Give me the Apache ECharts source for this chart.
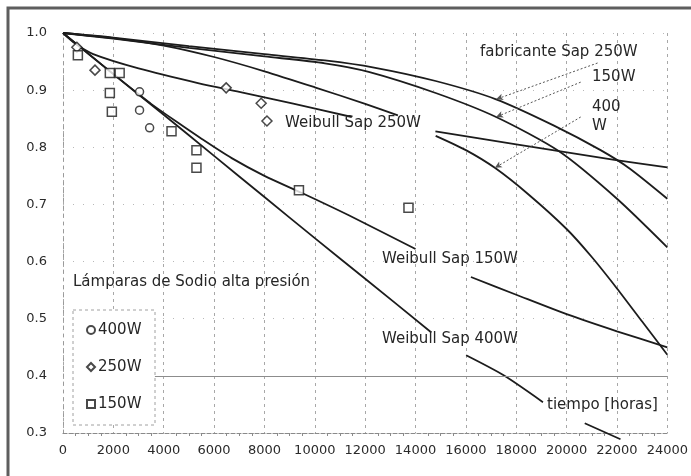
<!DOCTYPE html>
<html>
<head>
<meta charset="utf-8">
<script src="https://cdn.jsdelivr.net/npm/echarts@6/dist/echarts.min.js"></script>
<style>
  html, body { margin: 0; padding: 0; background: #fff; }
  #chart { width: 691px; height: 476px; }
</style>
</head>
<body>
<div id="chart"></div>
<script>
// Supervivencia de lámparas de sodio alta presión frente al tiempo de uso (horas)

// Curvas del fabricante
const fab250Hours = [0, 2000, 5000, 8000, 10400, 12300, 14800, 17200, 19500, 21350, 22500, 24000];
const fab250Rel   = [1.0, 0.992, 0.977, 0.963, 0.952, 0.940, 0.916, 0.884, 0.838, 0.795, 0.763, 0.710];

const fab150Hours = [0, 2000, 5000, 8000, 10400, 12140, 14800, 17200, 19700, 22000, 24000];
const fab150Rel   = [1.0, 0.990, 0.974, 0.959, 0.947, 0.932, 0.895, 0.853, 0.793, 0.710, 0.625];

// null = tramo tapado por el rótulo "Weibull Sap 250W"
const fab400Hours = [0, 2000, 4000, 6000, 8000, 10000, 12000, 13300, 14000, 14800, 16000, 17150, 18500, 20000, 21000, 22000, 23000, 24000];
const fab400Rel   = [1.0, 0.991, 0.978, 0.958, 0.933, 0.905, 0.876, 0.856, null, 0.820, 0.795, 0.764, 0.717, 0.657, 0.608, 0.553, 0.495, 0.437];

// Ajustes Weibull
const wb250Hours = [0, 500, 1200, 3000, 5400, 7000, 9100, 11470, 13000, 14790, 18000, 21900, 24000];
const wb250Rel   = [1.0, 0.981, 0.963, 0.938, 0.912, 0.897, 0.877, 0.853, null, 0.828, 0.805, 0.778, 0.765];

const wb150Hours = [0, 1000, 2000, 3000, 3500, 4500, 5500, 6700, 8000, 9490, 11350, 14000, 15000, 16200, 18000, 20000, 22000, 24000];
const wb150Rel   = [1.0, 0.964, 0.928, 0.893, 0.876, 0.845, 0.815, 0.781, 0.750, 0.720, 0.681, 0.622, null, 0.573, 0.542, 0.508, 0.478, 0.450];

const wb400Hours = [0, 2000, 4000, 6000, 8000, 10000, 12000, 14630, 15300, 16010, 17500, 19060, 20000, 20720, 22140];
const wb400Rel   = [1.0, 0.928, 0.857, 0.785, 0.713, 0.641, 0.570, 0.476, null, 0.436, 0.401, 0.354, null, 0.317, 0.289];

// Datos observados
const obs400Hours = [3040, 3040, 3440];
const obs400Rel   = [0.897, 0.865, 0.834];
const obs250Hours = [550, 1270, 6480, 7870, 8100];
const obs250Rel   = [0.975, 0.935, 0.904, 0.877, 0.846];
const obs150Hours = [590, 1860, 2250, 1860, 1940, 4310, 5300, 5300, 9370, 13720];
const obs150Rel   = [0.961, 0.930, 0.930, 0.895, 0.862, 0.828, 0.795, 0.764, 0.725, 0.694];

// Flechas de los rótulos del fabricante: [inicio, punta]
const arrow250 = [[21230, 0.9475], [17200, 0.884]];
const arrow150 = [[20560, 0.914], [17200, 0.853]];
const arrow400 = [[20560, 0.853], [17150, 0.764]];

const xTicks = { min: 0, max: 24000, step: 2000 };
const yTicks = { min: 0.3, max: 1.0, step: 0.1 };
const refLevel = 0.4;
const refStart = 3650;

const FONT = '"DejaVu Sans", "Liberation Sans", sans-serif';
const INK = '#1c1c1c';

const pairs = (xs, ys) => xs.map((x, i) => [x, ys[i] === null ? '-' : ys[i]]);

function curve(data, extra) {
  return Object.assign({
    type: 'line',
    data: data,
    showSymbol: false,
    symbol: 'none',
    smooth: 0.25,
    connectNulls: false,
    lineStyle: { color: INK, width: 1.8 },
    z: 3,
    silent: true
  }, extra || {});
}

function arrowLine(a) {
  return {
    silent: true,
    symbol: ['none', 'arrow'],
    symbolSize: [5, 7],
    label: { show: false },
    lineStyle: { color: '#555', type: [2, 2], width: 1 },
    data: [[{ coord: a[0] }, { coord: a[1] }]]
  };
}

const markerStyle = { color: '#fff', borderColor: INK, borderWidth: 1.5 };

const chart = echarts.init(document.getElementById('chart'), null, { renderer: 'canvas' });

const labelText = (txt, x, y) => ({
  type: 'text', x: x, y: y, z: 10, silent: true,
  style: { text: txt, font: '15px ' + FONT, fill: '#262626', verticalAlign: 'middle', align: 'left' }
});

chart.setOption({
  animation: false,
  backgroundColor: '#fff',
  grid: { left: 63, right: 21, top: 33, bottom: 43, containLabel: false },
  xAxis: {
    type: 'value',
    min: xTicks.min, max: xTicks.max, interval: xTicks.step,
    axisLine: { show: true, onZero: false, lineStyle: { color: '#8a8a8a', type: [4, 2], width: 1.2 } },
    axisTick: { show: false },
    minorTick: { show: true, splitNumber: 4, length: 3, lineStyle: { color: '#8a8a8a' } },
    axisLabel: { color: '#2a2a2a', fontFamily: FONT, fontSize: 13, margin: 11,
                 formatter: v => String(v) },
    splitLine: { show: true, lineStyle: { color: '#a8a8a8', type: [3, 4], width: 1 } }
  },
  yAxis: {
    type: 'value',
    min: yTicks.min, max: yTicks.max, interval: yTicks.step,
    axisLine: { show: true, onZero: false, lineStyle: { color: '#9a9a9a', type: [3, 5], width: 1 } },
    axisTick: { show: false },
    axisLabel: { color: '#2a2a2a', fontFamily: FONT, fontSize: 13, margin: 16,
                 formatter: v => v.toFixed(1) },
    splitLine: { show: true, lineStyle: { color: '#b8b8b8', type: [1, 9], width: 1 } }
  },
  legend: {
    data: ['400W', '250W', '150W'],
    orient: 'vertical',
    left: 86, top: 321,
    padding: 0,
    itemWidth: 8, itemHeight: 8,
    itemGap: 19,
    selectedMode: false,
    textStyle: { color: '#262626', fontFamily: FONT, fontSize: 15, lineHeight: 18, padding: [0, 0, 0, -2] }
  },
  graphic: [
    { type: 'rect', z: 0, silent: true,
      shape: { x: 8, y: 8, width: 740, height: 540 },
      style: { fill: 'none', stroke: '#5e5e5e', lineWidth: 3 } },
    { type: 'rect', z: 3, silent: true,
      shape: { x: 73, y: 310, width: 82, height: 115 },
      style: { fill: '#fff', stroke: '#a0a0a0', lineWidth: 1, lineDash: [3, 3] } },
    labelText('fabricante Sap 250W', 480, 52),
    labelText('150W', 592, 77),
    labelText('400', 592, 107),
    labelText('W', 592, 126),
    labelText('Weibull Sap 250W', 285, 123),
    labelText('Weibull Sap 150W', 382, 259),
    labelText('Weibull Sap 400W', 382, 339),
    labelText('tiempo [horas]', 547, 405),
    labelText('Lámparas de Sodio alta presión', 73, 282)
  ],
  series: [
    // Línea de referencia horizontal en 0.4
    { type: 'line', data: [], z: 1, silent: true,
      markLine: { silent: true, symbol: 'none', label: { show: false },
        lineStyle: { color: '#8c8c8c', type: 'solid', width: 1.2 },
        data: [[{ coord: [refStart, refLevel] }, { coord: [xTicks.max, refLevel] }]] } },
    curve(pairs(fab250Hours, fab250Rel), { name: 'fabricante 250W', markLine: arrowLine(arrow250) }),
    curve(pairs(fab150Hours, fab150Rel), { name: 'fabricante 150W', markLine: arrowLine(arrow150) }),
    curve(pairs(fab400Hours, fab400Rel), { name: 'fabricante 400W', markLine: arrowLine(arrow400) }),
    curve(pairs(wb250Hours, wb250Rel), { name: 'Weibull 250W' }),
    curve(pairs(wb150Hours, wb150Rel), { name: 'Weibull 150W' }),
    curve(pairs(wb400Hours, wb400Rel), { name: 'Weibull 400W', clip: false }),
    { name: '400W', type: 'scatter', symbol: 'circle', symbolSize: 8, z: 5,
      itemStyle: markerStyle, data: pairs(obs400Hours, obs400Rel) },
    { name: '250W', type: 'scatter', symbol: 'diamond', symbolSize: 10, z: 5,
      itemStyle: markerStyle, data: pairs(obs250Hours, obs250Rel) },
    { name: '150W', type: 'scatter', symbol: 'rect', symbolSize: 9, z: 5,
      itemStyle: markerStyle, data: pairs(obs150Hours, obs150Rel) }
  ]
});
</script>
</body>
</html>
